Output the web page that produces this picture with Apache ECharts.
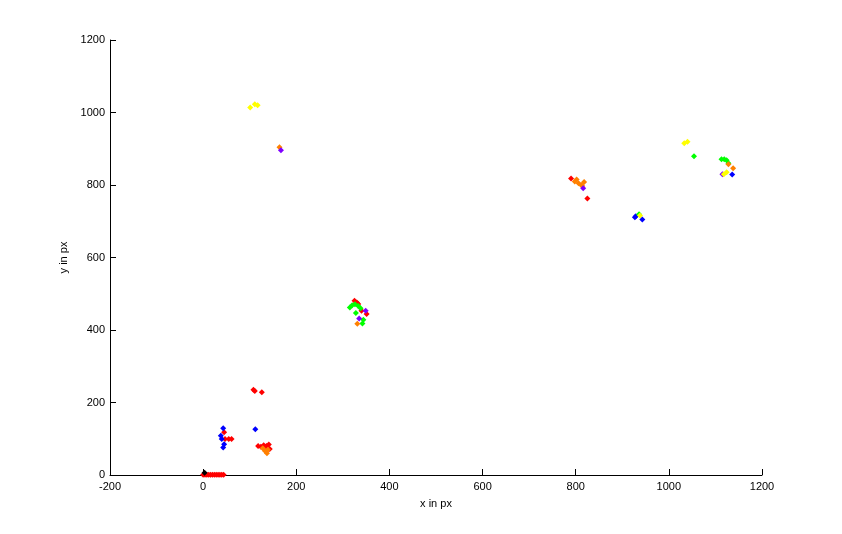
<!DOCTYPE html>
<html><head><meta charset="utf-8">
<script src="https://cdn.jsdelivr.net/npm/echarts@6/dist/echarts.min.js"></script>
<style>html,body{margin:0;padding:0;background:#fff}#c{width:842px;height:534px}</style>
</head><body><div id="c"></div>
<script>
var xTicks = [-200, 0, 200, 400, 600, 800, 1000, 1200];
var yTicks = [0, 200, 400, 600, 800, 1000, 1200];

var redPts = [[0,1],[4,1],[8,1],[12,1],[16,1],[20,1],[24,1],[28,1],[32,1],[36,1],[40,1],[44,1],
  [45,118],[47,99],[55,99],[61,99],
  [108,235],[111,232],[126,228],
  [118,80],[124,78],[130,82],[136,80],[141,84],[143,72],[132,76],
  [325,481],[333,472],[340,453],[351,444],[330,476],
  [790,818],[825,763]];
var bluePts = [[43,129],[38,108],[40,99],[45,85],[43,76],[112,126],
  [927,711],[929,714],[943,705],[1136,829]];
var greenPts = [[315,462],[320,468],[326,471],[333,466],[328,447],[344,428],[342,418],[338,460],
  [936,719],[1054,879],[1113,871],[1119,871],[1124,868],[1128,860]];
var yellowPts = [[101,1014],[111,1023],[117,1020],[938,716],[1033,915],[1040,919],[1124,835],[1118,830]];
var orangePts = [[128,74],[133,66],[137,60],[139,70],[331,417],[164,904],
  [798,810],[802,815],[806,805],[812,800],[818,808],[814,797],[1128,857],[1138,846]];
var purplePts = [[349,453],[335,432],[167,896],[816,791],[1115,830]];
var blackPts = [[3,6]];

var groups = [
  {name:'red', color:'#ff0000', data:redPts},
  {name:'blue', color:'#0000ff', data:bluePts},
  {name:'green', color:'#00ff00', data:greenPts},
  {name:'orange', color:'#ff8000', data:orangePts},
  {name:'purple', color:'#8000ff', data:purplePts},
  {name:'yellow', color:'#ffff00', data:yellowPts},
  {name:'black', color:'#000000', data:blackPts}
];

var font = 'Liberation Sans, Arial, sans-serif';
var chart = echarts.init(document.getElementById('c'), null, {renderer:'canvas'});
chart.setOption({
  animation:false,
  backgroundColor:'#ffffff',
  grid:{left:110, right:80, top:40, bottom:59, containLabel:false},
  xAxis:{type:'value', min:xTicks[0], max:xTicks[xTicks.length-1], interval:200,
    name:'x in px', nameLocation:'middle', nameGap:23,
    nameTextStyle:{color:'#000', fontFamily:font, fontSize:11},
    axisLine:{show:true, onZero:false, lineStyle:{color:'#000', width:1}},
    axisTick:{show:true, inside:true, length:6, lineStyle:{color:'#000'}},
    axisLabel:{color:'#000', fontFamily:font, fontSize:11, margin:6,
      formatter:function(v){return String(v);}},
    splitLine:{show:false}},
  yAxis:{type:'value', min:yTicks[0], max:yTicks[yTicks.length-1], interval:200,
    name:'y in px', nameLocation:'middle', nameGap:40,
    nameTextStyle:{color:'#000', fontFamily:font, fontSize:11},
    axisLine:{show:true, onZero:false, lineStyle:{color:'#000', width:1}},
    axisTick:{show:true, inside:true, length:6, lineStyle:{color:'#000'}},
    axisLabel:{color:'#000', fontFamily:font, fontSize:11, margin:5,
      formatter:function(v){return String(v);}},
    splitLine:{show:false}},
  series: groups.map(function(g){
    return {type:'scatter', name:g.name, data:g.data, symbol:'diamond', symbolSize:6,
      clip:false, itemStyle:{color:g.color, opacity:1}};
  })
});
</script></body></html>
